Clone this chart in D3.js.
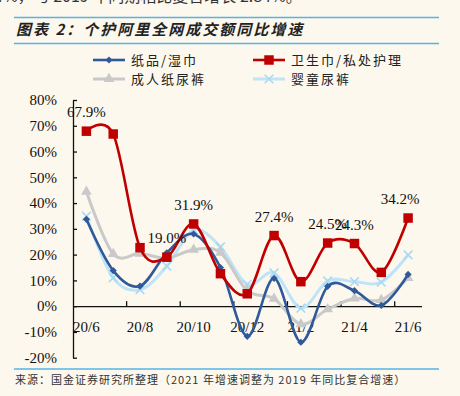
<!DOCTYPE html>
<html>
<head>
<meta charset="utf-8">
<script src="https://cdn.jsdelivr.net/npm/d3@7"></script>
<style>
  html, body { margin: 0; padding: 0; background: #fcf8ee; }
  svg { display: block; }
  .num { font-family: "Liberation Serif", "Times New Roman", serif; font-size: 15px; fill: #111; }
  .cjk { font-family: "Noto Sans CJK SC", sans-serif; fill: #222; }
</style>
</head>
<body>
<svg id="chart" width="460" height="396"></svg>
<script>
// data
var months = ['20/6', '20/7', '20/8', '20/9', '20/10', '20/11', '20/12', '21/1', '21/2', '21/3', '21/4', '21/5', '21/6'];
var paperWipes = [33.7, 13.8, 7.8, 20.7, 28.0, 15.0, -11.7, 10.8, -14.0, 7.7, 6.0, 0.3, 12.3];
var sanitary = [67.9, 66.8, 22.7, 19.0, 31.9, 12.6, 4.8, 27.4, 9.5, 24.5, 24.3, 13.1, 34.2];
var adultDiaper = [44.4, 20.3, 20.4, 18.7, 21.9, 20.8, 6.0, 2.9, -7.0, -1.2, 3.0, 2.4, 11.0];
var babyDiaper = [34.9, 11.0, 6.4, 15.5, 29.5, 23.0, 8.5, 12.9, -0.8, 9.8, 9.5, 9.3, 19.9];
var seriesNames = ['纸品/湿巾', '卫生巾/私处护理', '成人纸尿裤', '婴童尿裤'];
var labelledMonths = ['20/6', '20/9', '20/10', '21/1', '21/3', '21/4', '21/6'];
var yTicks = [80, 70, 60, 50, 40, 30, 20, 10, 0, -10, -20];
var xTickLabels = ['20/6', '20/8', '20/10', '20/12', '21/2', '21/4', '21/6'];

var svg = d3.select('#chart');

// header / footer
svg.append('text').attr('class', 'cjk')
  .attr('x', -6).attr('y', 2)
  .style('font-size', '16px').style('fill', '#333')
  .text('4%，与 2019 年同期相比复合增长 2.84%。');

svg.append('line').attr('x1', 14).attr('x2', 439).attr('y1', 17.5).attr('y2', 17.5)
  .attr('stroke', '#55b4e6').attr('stroke-width', 1.5);
svg.append('text').attr('class', 'cjk')
  .attr('x', 16).attr('y', 35)
  .style('font-size', '15px').style('font-weight', 'bold').style('font-style', 'italic')
  .style('letter-spacing', '2px')
  .text('图表 2：个护阿里全网成交额同比增速');
svg.append('line').attr('x1', 14).attr('x2', 439).attr('y1', 43.5).attr('y2', 43.5)
  .attr('stroke', '#55b4e6').attr('stroke-width', 1.5);

svg.append('line').attr('x1', 14).attr('x2', 439).attr('y1', 369).attr('y2', 369)
  .attr('stroke', '#55b4e6').attr('stroke-width', 1.5);
svg.append('text').attr('class', 'cjk')
  .attr('x', 15).attr('y', 384)
  .style('font-size', '11px').style('letter-spacing', '1px').style('fill', '#333')
  .text('来源：国金证券研究所整理（2021 年增速调整为 2019 年同比复合增速）');

// scales
var x = d3.scaleBand().domain(months).range([73, 421.5]),
    y = d3.scaleLinear().domain([-20, 80]).range([357.7, 100]),
    bw = x.bandwidth();

function cx(m) { return x(m) + bw / 2; }

// axes
var yAxis = svg.append('g')
  .attr('transform', 'translate(73,0)')
  .call(d3.axisLeft(y)
    .tickValues(yTicks)
    .tickSizeInner(-4)
    .tickSizeOuter(0)
    .tickPadding(16)
    .tickFormat(function(d) { return d + '%'; }));
yAxis.selectAll('text').attr('class', 'num').attr('fill', null);
yAxis.selectAll('line, path').attr('stroke', '#111').attr('stroke-width', 1.3);

var xAxis = svg.append('g')
  .attr('transform', 'translate(0,' + y(0) + ')')
  .call(d3.axisBottom(x)
    .tickValues(xTickLabels)
    .tickSize(0)
    .tickPadding(15));
xAxis.selectAll('text').attr('class', 'num').attr('fill', null);
xAxis.select('.domain').attr('stroke', '#111').attr('stroke-width', 1.3);

// tick marks sit on the category borders, every second month
xAxis.selectAll('.bnd')
  .data(months.filter(function(d, i) { return i > 0 && i % 2 === 0; }))
  .enter().append('line')
  .attr('class', 'bnd')
  .attr('x1', function(d) { return x(d); })
  .attr('x2', function(d) { return x(d); })
  .attr('y1', 0).attr('y2', -5)
  .attr('stroke', '#111').attr('stroke-width', 1.3);

// series
var crossPath = d3.symbolTimes ? d3.symbol(d3.symbolTimes, 50)() : 'M-4,-4L4,4M-4,4L4,-4';
var series = [
  { name: seriesNames[3], values: babyDiaper, color: '#bfe4f8', width: 3,
    marker: crossPath, fill: 'none', stroke: '#a9d9f4' },
  { name: seriesNames[2], values: adultDiaper, color: '#c9c9c9', width: 3,
    marker: d3.symbol(d3.symbolTriangle, 50)(), fill: '#c9c9c9', stroke: 'none' },
  { name: seriesNames[0], values: paperWipes, color: '#30599a', width: 2.6,
    marker: d3.symbol(d3.symbolSquare, 26)(), rotate: 45, fill: '#30599a', stroke: 'none' },
  { name: seriesNames[1], values: sanitary, color: '#c00000', width: 2.6,
    marker: d3.symbol(d3.symbolSquare, 90)(), fill: '#c00000', stroke: 'none' }
];

var line = d3.line()
  .x(function(d, i) { return cx(months[i]); })
  .y(function(d) { return y(d); })
  .curve(d3.curveCardinal.tension(0));

series.forEach(function(s) {
  var g = svg.append('g');
  g.append('path')
    .attr('d', line(s.values))
    .attr('fill', 'none')
    .attr('stroke', s.color)
    .attr('stroke-width', s.width);
  g.selectAll('path.mk')
    .data(s.values)
    .enter().append('path')
    .attr('class', 'mk')
    .attr('d', s.marker)
    .attr('transform', function(d, i) {
      return 'translate(' + cx(months[i]) + ',' + y(d) + ')' + (s.rotate ? ' rotate(' + s.rotate + ')' : '');
    })
    .attr('fill', s.fill)
    .attr('stroke', s.stroke)
    .attr('stroke-width', 1.6);
});

// value labels on the red series
svg.append('g').selectAll('text')
  .data(months.map(function(m, i) { return { m: m, v: sanitary[i] }; })
    .filter(function(d) { return labelledMonths.indexOf(d.m) >= 0; }))
  .enter().append('text')
  .attr('class', 'num')
  .attr('text-anchor', 'middle')
  .attr('x', function(d) { return cx(d.m) - (d.m === '21/6' ? 8 : 0); })
  .attr('y', function(d) { return y(d.v) - 19; })
  .attr('dy', '0.35em')
  .text(function(d) { return d.v.toFixed(1) + '%'; });

// legend
var legendOrder = [series[2], series[3], series[1], series[0]];
var legend = svg.append('g').selectAll('g')
  .data(legendOrder)
  .enter().append('g')
  .attr('transform', function(d, i) {
    return 'translate(' + (i % 2 ? 253 : 93) + ',' + (i < 2 ? 60 : 79) + ')';
  });
legend.append('line')
  .attr('x1', 0).attr('x2', 32).attr('y1', 0).attr('y2', 0)
  .attr('stroke', function(d) { return d.color; })
  .attr('stroke-width', function(d) { return d.width; });
legend.append('path')
  .attr('d', function(d) { return d.marker; })
  .attr('transform', function(d) { return 'translate(16,0)' + (d.rotate ? ' rotate(' + d.rotate + ')' : ''); })
  .attr('fill', function(d) { return d.fill; })
  .attr('stroke', function(d) { return d.stroke; })
  .attr('stroke-width', 1.6);
legend.append('text')
  .attr('class', 'cjk')
  .attr('x', 38).attr('y', 0).attr('dy', '0.36em')
  .style('font-size', '13px').style('letter-spacing', '2px')
  .text(function(d) { return d.name; });
</script>
</body>
</html>
